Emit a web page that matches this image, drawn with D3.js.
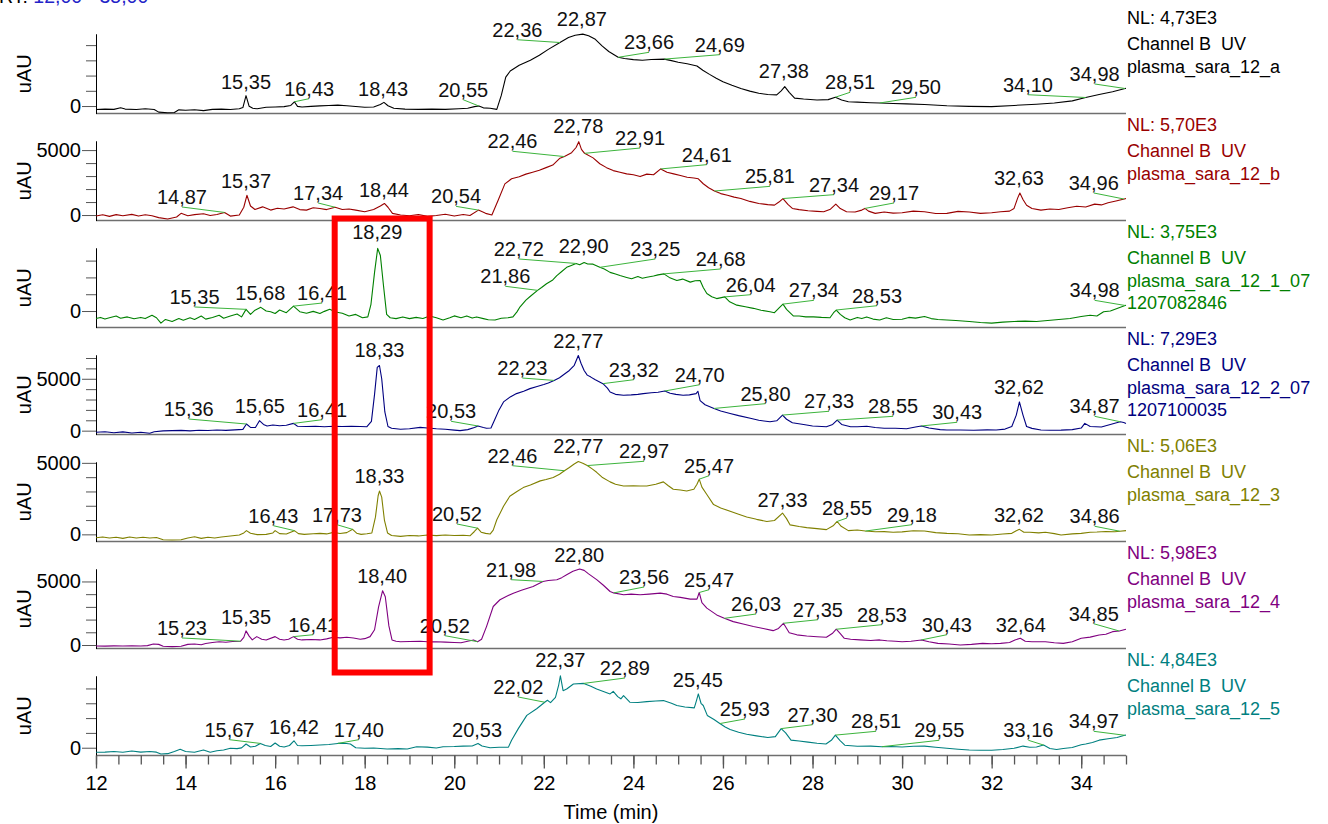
<!DOCTYPE html>
<html>
<head>
<meta charset="utf-8">
<script src="https://cdn.jsdelivr.net/npm/d3@7"></script>
<style>
  body { margin: 0; background: #fff; }
  svg { display: block; font-family: "Liberation Sans", Arial, sans-serif; }
</style>
</head>
<body>
<svg id="chart" width="1328" height="824"></svg>
<script>
// ---- run metadata ----
const runNames = [
  ["plasma_sara_12_a"],
  ["plasma_sara_12_b"],
  ["plasma_sara_12_1_07", "1207082846"],
  ["plasma_sara_12_2_07", "1207100035"],
  ["plasma_sara_12_3"],
  ["plasma_sara_12_4"],
  ["plasma_sara_12_5"]
];
const channelName = "Channel B  UV";
const normLevels = [4730, 5700, 3750, 7290, 5060, 5980, 4840];     // NL (uAU)
const baselineMins = [-490, -420, -980, -370, -500, -275, -525];    // lowest signal in each run (uAU)
const timeRange = [12, 35];
const timeTicksMajor = d3.range(12, 35, 2);
const timeTicksMinor = d3.range(12, 35.01, 0.5);
const markedWindow = [17.33, 19.45];                                // highlighted retention window (min)

// ---- traces: [time (min), signal (uAU)] ----
const trace_a = [[12.0,-230],[12.2,-200],[12.4,-220],[12.55,-110],[12.65,-200],[12.9,-230],[13.1,-180],[13.3,-230],[13.4,-400],[13.6,-440],[13.75,-420],[13.85,-250],[14.0,-280],[14.2,-240],[14.4,-300],[14.6,-220],[14.8,-200],[15.0,-230],[15.2,-180],[15.28,-100],[15.35,680],[15.42,-20],[15.5,-150],[15.6,-180],[15.8,-80],[16.0,-60],[16.2,-40],[16.35,40],[16.43,280],[16.5,-20],[16.6,-60],[16.8,-20],[17.0,10],[17.2,40],[17.4,60],[17.6,20],[17.8,-30],[18.0,-80],[18.2,-60],[18.35,100],[18.43,240],[18.52,20],[18.65,-150],[18.9,-200],[19.2,-220],[19.5,-200],[19.8,-220],[20.1,-180],[20.3,-150],[20.45,-40],[20.55,0],[20.65,-120],[20.8,-150],[20.95,-220],[21.05,700],[21.15,1900],[21.25,2300],[21.45,2680],[21.7,3000],[21.9,3330],[22.1,3720],[22.36,4170],[22.55,4500],[22.7,4650],[22.87,4720],[23.0,4620],[23.15,4380],[23.3,3950],[23.45,3580],[23.66,3200],[23.8,3120],[24.0,3050],[24.2,3010],[24.4,3060],[24.69,3080],[24.85,2980],[25.0,2880],[25.2,2780],[25.42,2630],[25.55,2350],[25.7,2080],[25.85,1830],[26.0,1600],[26.2,1360],[26.4,1150],[26.6,980],[26.8,840],[27.0,760],[27.2,730],[27.3,1000],[27.38,1270],[27.48,900],[27.6,520],[27.8,460],[28.1,400],[28.35,420],[28.51,580],[28.65,400],[28.8,280],[29.0,260],[29.3,220],[29.5,200],[29.8,170],[30.1,140],[30.5,100],[31.0,20],[31.5,-20],[32.0,-40],[32.5,40],[33.0,120],[33.4,200],[33.8,340],[34.1,560],[34.4,760],[34.7,940],[34.98,1150],[35.0,1160]];

const trace_b = [[12.0,-80],[12.15,20],[12.3,-100],[12.45,30],[12.6,-60],[12.8,50],[12.95,-80],[13.1,20],[13.25,-60],[13.4,-200],[13.6,-300],[13.8,-150],[13.9,130],[14.05,-50],[14.2,30],[14.4,100],[14.55,-40],[14.7,40],[14.87,200],[15.0,-80],[15.2,0],[15.3,600],[15.37,1520],[15.45,700],[15.55,430],[15.72,630],[15.9,380],[16.05,520],[16.2,470],[16.4,630],[16.55,420],[16.7,380],[16.85,560],[17.0,500],[17.15,420],[17.34,600],[17.5,430],[17.65,470],[17.8,380],[18.0,250],[18.2,430],[18.35,700],[18.44,890],[18.52,600],[18.62,130],[18.8,0],[19.0,-60],[19.2,40],[19.4,-100],[19.6,-40],[19.8,60],[20.0,-80],[20.2,40],[20.35,-30],[20.54,380],[20.7,130],[20.84,0],[20.98,1140],[21.13,2400],[21.28,2790],[21.45,2950],[21.6,3150],[21.75,3300],[21.9,3450],[22.05,3650],[22.2,3850],[22.36,4380],[22.46,4500],[22.62,4800],[22.72,5200],[22.78,5650],[22.84,5050],[22.91,4750],[23.1,4400],[23.25,3950],[23.4,3650],[23.55,3420],[23.7,3300],[23.85,3170],[24.0,3100],[24.15,2960],[24.3,3150],[24.45,3100],[24.61,3550],[24.75,3300],[24.9,3170],[25.05,3050],[25.2,2910],[25.35,2850],[25.45,2790],[25.56,2410],[25.68,2100],[25.81,1850],[25.95,1650],[26.1,1520],[26.25,1380],[26.4,1270],[26.6,1050],[26.8,890],[27.0,800],[27.15,760],[27.25,1000],[27.34,1270],[27.45,820],[27.55,510],[27.7,420],[27.9,330],[28.1,280],[28.25,250],[28.4,450],[28.52,840],[28.62,500],[28.76,250],[28.95,230],[29.1,380],[29.17,510],[29.25,300],[29.4,130],[29.6,230],[29.8,150],[30.0,180],[30.25,300],[30.5,250],[30.75,120],[31.0,130],[31.25,280],[31.5,230],[31.75,130],[32.0,180],[32.2,250],[32.4,300],[32.5,510],[32.58,1300],[32.63,1700],[32.7,1200],[32.78,760],[32.9,510],[33.1,380],[33.3,460],[33.5,430],[33.7,560],[33.9,680],[34.1,620],[34.3,840],[34.45,780],[34.6,940],[34.8,1100],[34.96,1230],[35.0,1270]];

const trace_c = [[12.0,-450],[12.1,-380],[12.2,-480],[12.3,-400],[12.45,-300],[12.55,-430],[12.7,-350],[12.85,-460],[13.0,-380],[13.1,-450],[13.25,-250],[13.35,-400],[13.45,-720],[13.55,-500],[13.7,-620],[13.85,-450],[13.95,-550],[14.1,-400],[14.2,-500],[14.35,-300],[14.45,-480],[14.6,-380],[14.75,-250],[14.85,-430],[15.0,-300],[15.15,-180],[15.25,-350],[15.35,100],[15.45,-200],[15.55,50],[15.68,220],[15.8,0],[15.9,-40],[16.0,-150],[16.1,60],[16.25,-100],[16.41,290],[16.55,-40],[16.7,-130],[16.85,-20],[17.0,-150],[17.1,-20],[17.22,100],[17.35,-60],[17.5,-130],[17.65,-300],[17.8,-200],[17.95,-400],[18.07,-350],[18.14,400],[18.22,2300],[18.29,3730],[18.35,3300],[18.42,1500],[18.49,-200],[18.57,-400],[18.7,-450],[18.85,-350],[19.0,-450],[19.15,-380],[19.3,-440],[19.45,-300],[19.6,-400],[19.75,-530],[19.9,-400],[20.0,-290],[20.15,-400],[20.28,-290],[20.4,-420],[20.5,-350],[20.65,-450],[20.76,-520],[20.91,-530],[21.05,-430],[21.2,-400],[21.31,-350],[21.4,-50],[21.47,250],[21.6,650],[21.7,880],[21.86,1230],[21.95,1400],[22.06,1620],[22.2,1850],[22.29,2110],[22.4,2350],[22.51,2600],[22.6,2700],[22.72,2830],[22.8,2750],[22.9,2890],[22.98,2800],[23.1,2790],[23.25,2600],[23.35,2500],[23.48,2300],[23.6,2200],[23.7,2110],[23.85,2000],[23.96,1920],[24.1,2050],[24.2,1950],[24.3,2010],[24.45,2080],[24.55,2150],[24.68,2210],[24.8,2000],[24.97,1820],[25.1,1900],[25.27,1720],[25.38,1800],[25.49,1820],[25.56,1400],[25.64,1040],[25.75,850],[25.86,740],[26.04,840],[26.15,550],[26.31,350],[26.5,250],[26.68,160],[26.85,50],[27.05,-40],[27.15,-100],[27.26,200],[27.34,410],[27.42,100],[27.57,-290],[27.7,-300],[27.85,-350],[28.02,-350],[28.2,-380],[28.39,-400],[28.47,-100],[28.53,60],[28.62,-200],[28.72,-400],[28.84,-530],[29.0,-380],[29.1,-450],[29.21,-350],[29.35,-480],[29.5,-530],[29.65,-400],[29.8,-500],[30.0,-490],[30.15,-380],[30.3,-420],[30.5,-330],[30.65,-450],[30.8,-500],[31.0,-530],[31.2,-560],[31.5,-620],[31.75,-680],[32.0,-720],[32.25,-660],[32.5,-620],[32.75,-600],[33.0,-620],[33.25,-560],[33.5,-500],[33.75,-440],[34.0,-330],[34.2,-250],[34.35,-300],[34.5,-40],[34.65,0],[34.8,150],[34.98,330],[35.0,350]];

const trace_d = [[12.0,-150],[12.2,-100],[12.4,-200],[12.6,-120],[12.8,-220],[13.0,-150],[13.2,-250],[13.3,-100],[13.5,-20],[13.7,0],[13.9,30],[14.1,-20],[14.3,40],[14.5,20],[14.7,60],[14.9,30],[15.1,80],[15.28,120],[15.36,640],[15.45,320],[15.56,300],[15.65,960],[15.74,600],[15.82,450],[15.95,550],[16.1,480],[16.25,520],[16.41,700],[16.5,420],[16.7,400],[16.9,430],[17.1,380],[17.3,420],[17.5,400],[17.7,430],[17.9,400],[18.05,380],[18.15,900],[18.22,3500],[18.28,6100],[18.33,6280],[18.38,5000],[18.45,1800],[18.52,400],[18.6,230],[18.8,130],[19.0,180],[19.24,320],[19.4,250],[19.6,180],[19.8,130],[20.0,50],[20.13,0],[20.3,100],[20.45,300],[20.53,450],[20.65,300],[20.72,230],[20.82,250],[20.9,1020],[21.0,2000],[21.1,2770],[21.25,3250],[21.39,3570],[21.55,3800],[21.69,4050],[21.85,4250],[22.0,4450],[22.1,4600],[22.23,4840],[22.35,5100],[22.47,5480],[22.57,5800],[22.68,6300],[22.77,7240],[22.83,6500],[22.9,5800],[22.97,5350],[23.05,5160],[23.15,4900],[23.32,4530],[23.42,4100],[23.48,3730],[23.6,3500],[23.78,3410],[23.95,3450],[24.1,3500],[24.22,3570],[24.4,3650],[24.55,3700],[24.7,3820],[24.82,3600],[24.95,3500],[25.11,3410],[25.25,3450],[25.4,3570],[25.44,3800],[25.49,2900],[25.6,2500],[25.8,2140],[25.95,1900],[26.16,1660],[26.35,1450],[26.61,1190],[26.8,1000],[27.05,860],[27.2,950],[27.33,1500],[27.42,1100],[27.55,760],[27.8,600],[28.0,450],[28.31,380],[28.45,600],[28.55,1020],[28.65,600],[28.85,380],[29.0,380],[29.21,420],[29.4,300],[29.6,230],[29.85,230],[30.1,180],[30.3,350],[30.43,450],[30.6,250],[30.85,100],[31.0,70],[31.3,60],[31.6,40],[31.9,80],[32.1,60],[32.3,150],[32.45,400],[32.55,1500],[32.62,2770],[32.7,1500],[32.78,400],[32.9,220],[33.1,60],[33.3,40],[33.55,50],[33.8,100],[34.0,250],[34.08,700],[34.2,400],[34.45,350],[34.65,600],[34.87,860],[34.95,780],[35.0,700]];

const trace_e = [[12.0,-240],[12.15,-180],[12.3,-260],[12.45,-200],[12.6,-280],[12.75,-190],[12.9,-260],[13.05,-200],[13.2,-250],[13.35,-220],[13.5,-380],[13.7,-400],[13.9,-380],[14.05,-250],[14.2,-170],[14.35,-280],[14.5,-200],[14.65,-250],[14.8,-180],[15.0,-120],[15.2,-50],[15.3,100],[15.36,260],[15.45,80],[15.6,-20],[15.8,0],[15.95,100],[16.0,260],[16.1,50],[16.25,20],[16.43,260],[16.52,50],[16.65,0],[16.85,40],[17.0,70],[17.15,30],[17.3,140],[17.45,60],[17.6,120],[17.73,350],[17.82,80],[17.92,0],[18.05,40],[18.16,100],[18.24,1200],[18.3,2700],[18.33,3030],[18.38,2600],[18.44,1000],[18.51,100],[18.6,-80],[18.8,-140],[19.0,-80],[19.2,-110],[19.4,-50],[19.6,-90],[19.8,-50],[20.0,-80],[20.2,-60],[20.35,-100],[20.45,200],[20.52,430],[20.6,150],[20.7,70],[20.8,20],[20.87,300],[20.95,1020],[21.1,1960],[21.24,2670],[21.4,3000],[21.54,3270],[21.7,3450],[21.92,3740],[22.05,3830],[22.21,3980],[22.35,4200],[22.46,4450],[22.57,4680],[22.67,4900],[22.77,5090],[22.87,4980],[22.97,4810],[23.08,4580],[23.18,4340],[23.3,4000],[23.48,3670],[23.6,3500],[23.78,3380],[24.0,3400],[24.15,3380],[24.3,3380],[24.5,3500],[24.67,3670],[24.78,3400],[24.89,3150],[25.05,3100],[25.19,3030],[25.35,3150],[25.42,3500],[25.47,3860],[25.53,3300],[25.64,2790],[25.79,2080],[25.95,1850],[26.16,1610],[26.35,1400],[26.53,1210],[26.75,1050],[26.98,900],[27.15,970],[27.33,1490],[27.42,1100],[27.5,660],[27.7,550],[27.87,470],[28.1,400],[28.31,330],[28.46,600],[28.55,900],[28.64,560],[28.8,260],[29.0,300],[29.18,230],[29.4,180],[29.6,190],[29.8,150],[30.0,170],[30.25,250],[30.5,230],[30.75,120],[31.0,70],[31.25,40],[31.5,-50],[31.75,-20],[32.0,-50],[32.25,20],[32.45,70],[32.55,250],[32.62,350],[32.72,150],[32.85,150],[33.05,100],[33.2,150],[33.4,50],[33.55,-50],[33.8,30],[34.0,70],[34.2,150],[34.35,160],[34.55,200],[34.75,180],[34.86,220],[35.0,260]];

const trace_f = [[12.0,-80],[12.2,-90],[12.4,-70],[12.6,-80],[12.8,-60],[13.0,-80],[13.15,-50],[13.28,80],[13.4,50],[13.5,-100],[13.7,-130],[13.9,-100],[14.05,50],[14.2,80],[14.35,20],[14.45,120],[14.6,200],[14.75,260],[14.9,220],[15.05,280],[15.23,300],[15.3,600],[15.35,1110],[15.42,700],[15.49,400],[15.59,660],[15.7,450],[15.8,400],[16.0,660],[16.1,450],[16.2,400],[16.3,450],[16.41,660],[16.5,450],[16.6,400],[16.8,430],[17.0,400],[17.15,480],[17.3,610],[17.45,560],[17.6,610],[17.75,550],[17.9,450],[18.0,500],[18.12,660],[18.22,1200],[18.31,3000],[18.4,4270],[18.46,3800],[18.54,1500],[18.61,400],[18.7,300],[18.8,260],[19.0,280],[19.24,300],[19.4,250],[19.6,260],[19.8,230],[20.0,200],[20.15,180],[20.3,300],[20.43,400],[20.52,260],[20.61,450],[20.72,1450],[20.87,3030],[21.02,3560],[21.15,3800],[21.32,4080],[21.5,4300],[21.76,4610],[21.98,5000],[22.1,5080],[22.29,5140],[22.4,5300],[22.51,5530],[22.65,5800],[22.8,5980],[22.9,5870],[23.0,5600],[23.18,5140],[23.33,4700],[23.48,4210],[23.56,4100],[23.78,3950],[23.95,4000],[24.15,3950],[24.35,4000],[24.6,4080],[24.75,4000],[24.89,3820],[25.05,3750],[25.27,3610],[25.42,3610],[25.47,4130],[25.53,3340],[25.64,2900],[25.86,2370],[26.03,2100],[26.23,1840],[26.45,1650],[26.68,1450],[26.9,1300],[27.12,1130],[27.24,1300],[27.35,1710],[27.48,970],[27.65,800],[27.87,710],[28.1,650],[28.31,610],[28.44,900],[28.53,1240],[28.62,900],[28.71,530],[28.85,450],[29.06,400],[29.3,350],[29.5,400],[29.66,330],[29.85,300],[30.0,260],[30.2,300],[30.43,400],[30.6,250],[30.8,130],[31.05,80],[31.3,0],[31.55,50],[31.8,130],[32.0,100],[32.2,130],[32.4,200],[32.52,400],[32.64,530],[32.75,300],[32.9,260],[33.2,260],[33.4,180],[33.6,130],[33.8,250],[34.0,530],[34.2,620],[34.4,790],[34.55,850],[34.7,1050],[34.85,1100],[35.0,1240]];

const trace_g = [[12.0,-310],[12.2,-300],[12.4,-250],[12.6,-310],[12.8,-220],[13.0,-300],[13.2,-250],[13.35,-300],[13.45,-420],[13.6,-400],[13.75,-250],[13.88,-110],[14.0,-250],[14.2,-310],[14.4,-150],[14.55,-300],[14.7,-200],[14.85,-150],[15.0,-40],[15.15,-60],[15.25,-10],[15.35,250],[15.45,50],[15.56,100],[15.67,290],[15.78,150],[15.9,80],[16.0,320],[16.1,100],[16.2,50],[16.32,150],[16.42,470],[16.5,150],[16.6,130],[16.8,150],[17.0,180],[17.2,220],[17.4,290],[17.55,300],[17.68,250],[17.8,0],[18.0,-40],[18.2,-20],[18.5,-90],[18.75,-60],[18.95,-90],[19.16,70],[19.4,40],[19.6,-20],[19.75,70],[20.0,80],[20.2,110],[20.4,120],[20.53,290],[20.62,120],[20.8,0],[21.0,30],[21.21,40],[21.28,510],[21.43,1290],[21.62,2180],[21.84,2630],[22.02,3070],[22.08,3200],[22.15,3040],[22.26,3400],[22.33,4200],[22.37,4850],[22.43,3850],[22.51,3960],[22.66,4300],[22.89,4340],[23.05,4150],[23.18,3960],[23.33,3800],[23.48,3630],[23.55,3800],[23.65,3450],[23.72,3300],[23.78,3520],[23.92,3070],[24.1,3050],[24.3,3110],[24.5,3150],[24.67,3180],[24.85,3000],[24.97,2850],[25.15,2750],[25.36,2690],[25.41,3200],[25.45,3630],[25.51,3000],[25.56,2850],[25.65,2180],[25.8,1900],[25.93,1630],[26.05,1400],[26.16,1230],[26.35,1050],[26.53,910],[26.75,800],[27.0,690],[27.17,750],[27.3,1290],[27.4,1000],[27.52,510],[27.7,450],[27.9,380],[28.1,300],[28.3,250],[28.42,500],[28.51,850],[28.61,500],[28.72,170],[29.0,100],[29.3,110],[29.55,70],[29.75,80],[30.0,50],[30.25,100],[30.5,110],[30.75,30],[31.0,-40],[31.25,-100],[31.5,-150],[31.75,-170],[32.0,-170],[32.25,-120],[32.5,-40],[32.7,110],[32.85,30],[33.0,50],[33.16,180],[33.3,-50],[33.45,-120],[33.6,-50],[33.8,20],[34.0,200],[34.1,250],[34.25,350],[34.4,510],[34.6,600],[34.8,690],[34.97,840],[35.0,850]];

// ---- peak annotations: [apex time, label anchor time, label anchor uAU] ----
const peaks_a = [[15.35,15.35,1100],[16.43,16.76,680],[18.43,18.41,660],[20.55,20.20,610],[22.36,21.41,4550],[22.87,22.85,5260],[23.66,24.35,3725],[24.69,25.93,3570],[27.38,27.36,1820],[28.51,28.84,1100],[29.50,30.31,770],[34.10,32.81,940],[34.98,34.30,1645]];
const peaks_b = [[14.87,13.92,850],[15.37,15.35,2060],[17.34,16.96,1160],[18.44,18.43,1410],[20.54,20.04,900],[22.46,21.30,5140],[22.78,22.77,6290],[22.91,24.15,5390],[24.61,25.64,4110],[25.81,27.05,2440],[27.34,28.48,1800],[29.17,29.82,1160],[32.63,32.61,2310],[34.96,34.28,1930]];
const peaks_c = [[15.35,14.20,420],[15.68,15.67,655],[16.41,17.05,655],[18.29,18.28,4270],[21.86,21.14,1650],[22.72,21.44,3275],[22.90,22.89,3435],[23.25,24.49,3275],[24.68,25.95,2680],[26.04,26.62,1150],[27.34,28.03,815],[28.53,29.44,495],[34.98,34.30,815]];
const peaks_d = [[15.36,14.07,1410],[15.65,15.66,1670],[16.41,17.05,1345],[18.33,18.33,7125],[20.53,19.93,1190],[22.23,21.52,5360],[22.77,22.77,7935],[23.32,24.01,5200],[24.70,25.48,4715],[25.80,26.95,2890],[27.33,28.37,2155],[28.55,29.80,1670],[30.43,31.23,1095],[32.62,32.61,3530],[34.87,34.30,1670]];
const peaks_e = [[16.43,15.96,815],[17.73,17.38,885],[18.33,18.33,3610],[20.52,20.06,935],[22.46,21.30,5010],[22.77,22.77,5670],[22.97,24.24,5320],[25.47,25.69,4310],[27.33,27.33,1935],[28.55,28.77,1355],[29.18,30.22,885],[32.62,32.61,885],[34.86,34.30,775]];
const peaks_f = [[15.23,13.92,790],[15.35,15.35,1630],[16.41,16.85,1045],[18.40,18.39,4855],[20.52,19.79,970],[21.98,21.27,5375],[22.80,22.79,6555],[23.56,24.24,4800],[25.47,25.69,4585],[26.03,26.74,2675],[27.35,28.12,2225],[28.53,29.55,1835],[30.43,31.00,1045],[32.64,32.65,1045],[34.85,34.28,1910]];
const peaks_g = [[15.67,14.98,745],[16.42,16.42,925],[17.40,17.87,745],[20.53,20.51,745],[22.02,21.43,3625],[22.37,22.37,5465],[22.89,23.81,4905],[25.45,25.44,4120],[25.93,26.49,2140],[27.30,28.00,1755],[28.51,29.42,1310],[29.55,30.83,705],[33.16,32.82,705],[34.97,34.28,1310]];

const traces = [trace_a, trace_b, trace_c, trace_d, trace_e, trace_f, trace_g];
const peakSets = [peaks_a, peaks_b, peaks_c, peaks_d, peaks_e, peaks_f, peaks_g];

// ---- styling ----
const runColors = ["#000000", "#990000", "#008000", "#000080", "#808000", "#800080", "#008080"];
const leaderColor = "#3cb43c";
const panelTop0 = 34, panelStep = 107, panelH = 79.5;
const plotLeft = 96, plotRight = 1126;

const svg = d3.select("#chart");
const x = d3.scaleLinear().domain(timeRange).range([plotLeft, plotRight]);
const fmtRT = t => d3.format(".2f")(t).replace(".", ",");
const fmtNL = v => (v / 1000).toFixed(2).replace(".", ",") + "E3";

// clipped header line
const hdr = svg.append("text").attr("x", -1).attr("y", 3).attr("font-size", 19.5).style("white-space", "pre");
hdr.append("tspan").attr("fill", "#000").text("RT: ");
hdr.append("tspan").attr("fill", "#2323c8").text(`${d3.format(".2f")(timeRange[0]).replace(".", ",")} - ${d3.format(".2f")(timeRange[1]).replace(".", ",")}`);

function valueAt(trace, t) {
  const i = d3.bisector(d => d[0]).left(trace, t);
  if (i <= 0) return trace[0][1];
  if (i >= trace.length) return trace[trace.length - 1][1];
  const [t0, v0] = trace[i - 1], [t1, v1] = trace[i];
  return v0 + (v1 - v0) * (t - t0) / (t1 - t0);
}

traces.forEach((trace, i) => {
  const top = panelTop0 + panelStep * i;
  const bottom = top + panelH;
  const y = d3.scaleLinear().domain([baselineMins[i], normLevels[i]]).range([bottom, top]);
  const g = svg.append("g");
  const color = runColors[i];

  // baseline rule
  g.append("line").attr("x1", plotLeft).attr("x2", plotRight).attr("y1", bottom).attr("y2", bottom)
    .attr("stroke", "#6f6f6f").attr("stroke-width", 1.5);

  // y axis: minor and labelled ticks
  const ticks = d3.range(0, normLevels[i] + 1, 1000);
  const minorAxis = d3.axisLeft(y).tickValues(ticks.filter(v => v % 5000 !== 0)).tickSize(10).tickSizeOuter(0).tickFormat("");
  const majorAxis = d3.axisLeft(y).tickValues(ticks.filter(v => v % 5000 === 0)).tickSize(14).tickSizeOuter(0).tickPadding(1).tickFormat(d3.format("d"));
  const ga1 = g.append("g").attr("transform", `translate(${plotLeft},0)`).call(minorAxis);
  const ga2 = g.append("g").attr("transform", `translate(${plotLeft},0)`).call(majorAxis);
  [ga1, ga2].forEach(a => {
    a.selectAll(".tick line").attr("stroke", "#555");
    a.select(".domain").attr("stroke", "#000");
    a.selectAll("text").attr("font-size", 20).attr("font-family", "Liberation Sans, Arial, sans-serif").attr("fill", "#000");
  });

  g.append("text").attr("transform", `translate(31,${(top + bottom) / 2}) rotate(-90)`)
    .attr("text-anchor", "middle").attr("font-size", 20).text("uAU");

  // trace
  g.append("path").datum(trace)
    .attr("d", d3.line().x(d => x(d[0])).y(d => y(d[1])))
    .attr("fill", "none").attr("stroke", color).attr("stroke-width", 1.1).attr("stroke-linejoin", "round");

  // peak labels with leaders
  peakSets[i].forEach(([t, lt, lv]) => {
    const px = x(t), py = y(valueAt(trace, t));
    const lx = x(lt), ly = y(lv);
    if (Math.abs(lx - px) > 6) {
      g.append("line").attr("x1", px).attr("y1", py).attr("x2", lx).attr("y2", ly + 3)
        .attr("stroke", leaderColor).attr("stroke-width", 1);
    }
    g.append("text").attr("x", lx).attr("y", ly).attr("text-anchor", "middle")
      .attr("font-size", 20).attr("fill", "#111").text(fmtRT(t));
  });

  // run description
  const lines = [`NL: ${fmtNL(normLevels[i])}`, channelName, ...runNames[i]];
  const offs = [-10, 16, 38.5, 61];
  lines.forEach((s, k) => {
    g.append("text").attr("x", plotRight + 1).attr("y", top + offs[k])
      .attr("font-size", 18).attr("fill", color).style("white-space", "pre").text(s);
  });
});

// time axis
const axisY = panelTop0 + panelStep * 6 + panelH;
const gx1 = svg.append("g").attr("transform", `translate(0,${axisY})`)
  .call(d3.axisBottom(x).tickValues(timeTicksMinor).tickSize(9).tickSizeOuter(0).tickFormat(""));
const gx2 = svg.append("g").attr("transform", `translate(0,${axisY})`)
  .call(d3.axisBottom(x).tickValues(timeTicksMajor).tickSize(13).tickSizeOuter(0).tickPadding(7).tickFormat(d3.format("d")));
[gx1, gx2].forEach(a => {
  a.select(".domain").remove();
  a.selectAll(".tick line").attr("stroke", "#555").attr("stroke-width", 1.3);
  a.selectAll("text").attr("font-size", 20).attr("font-family", "Liberation Sans, Arial, sans-serif").attr("fill", "#000");
});
svg.append("text").attr("x", (plotLeft + plotRight) / 2).attr("y", 819).attr("text-anchor", "middle")
  .attr("font-size", 20).text("Time (min)");

// highlighted retention window
svg.append("rect")
  .attr("x", x(markedWindow[0])).attr("y", 218.5)
  .attr("width", x(markedWindow[1]) - x(markedWindow[0])).attr("height", 454)
  .attr("fill", "none").attr("stroke", "#ff0000").attr("stroke-width", 6);
</script>
</body>
</html>
